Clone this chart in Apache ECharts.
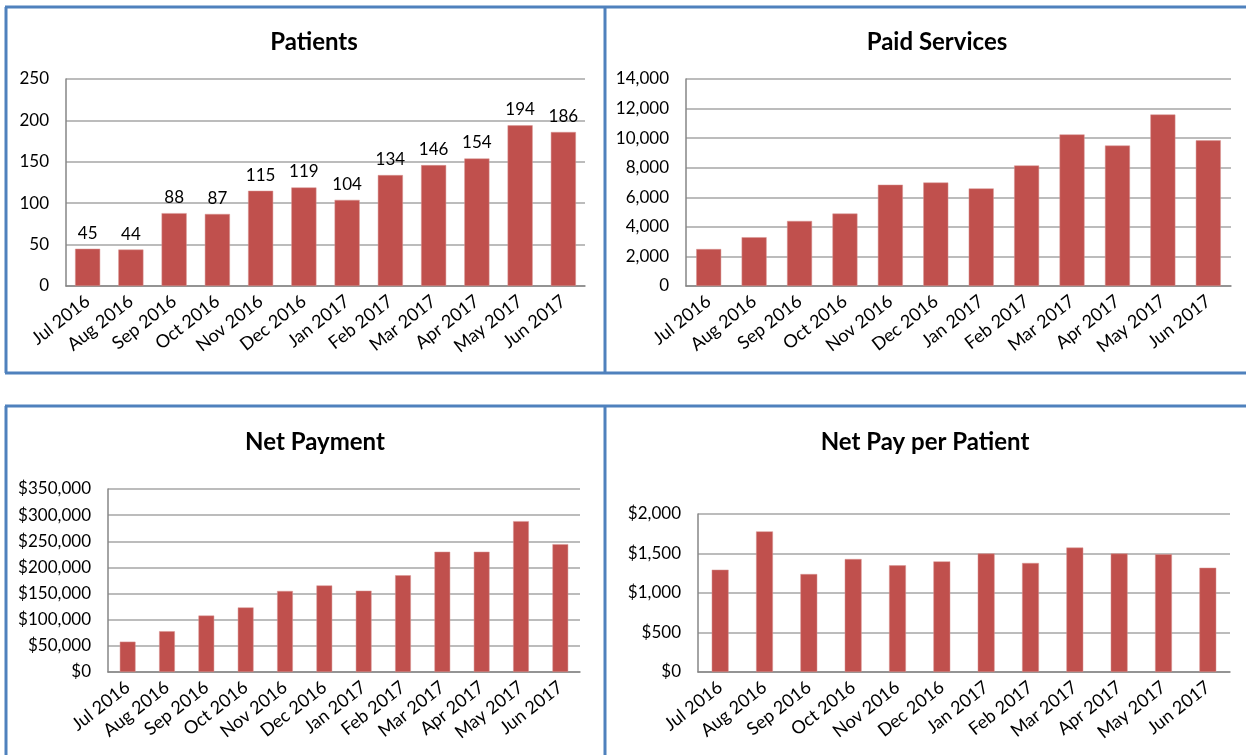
<!DOCTYPE html>
<html>
<head>
<meta charset="utf-8">
<style>
  html, body { margin: 0; padding: 0; background: #fff; }
  #main { width: 1246px; height: 755px; }
</style>
<script src="https://cdn.jsdelivr.net/npm/echarts@6/dist/echarts.min.js"></script>
</head>
<body>
<div id="main"></div>
<script>
var months = ['Jul 2016', 'Aug 2016', 'Sep 2016', 'Oct 2016', 'Nov 2016', 'Dec 2016',
              'Jan 2017', 'Feb 2017', 'Mar 2017', 'Apr 2017', 'May 2017', 'Jun 2017'];
var patients = [45, 44, 88, 87, 115, 119, 104, 134, 146, 154, 194, 186];
var paidServices = [2500, 3300, 4400, 4900, 6850, 7000, 6600, 8150, 10250, 9500, 11600, 9850];
var netPayment = [58000, 78000, 108000, 123500, 155000, 165500, 155500, 185000, 230000, 230000, 288500, 244500];
var netPayPerPatient = [1295, 1780, 1240, 1430, 1350, 1400, 1500, 1380, 1575, 1500, 1490, 1320];

var panelTitles = ['Patients', 'Paid Services', 'Net Payment', 'Net Pay per Patient'];

var font = 'Lato, "Liberation Sans", sans-serif';
var barColor = '#c0504d';
var frame = '#4f81bd';

function thousands(v) {
    return String(v).replace(/\B(?=(\d{3})+(?!\d))/g, ',');
}
function dollars(v) {
    return '$' + thousands(v);
}

var grids = [
    {left: 66, top: 79, width: 519, height: 207},
    {left: 686, top: 79, width: 545, height: 207},
    {left: 108, top: 489, width: 472, height: 183},
    {left: 698, top: 514, width: 532, height: 158}
];
var titlePos = [[309, 25], [932, 25], [310, 425], [920, 425]];

var yAxes = [
    {max: 250, interval: 50, fmt: function (v) { return v; }},
    {max: 14000, interval: 2000, fmt: thousands},
    {max: 350000, interval: 50000, fmt: dollars},
    {max: 2000, interval: 500, fmt: dollars}
];
var seriesData = [patients, paidServices, netPayment, netPayPerPatient];
var barWidths = ['58%', '55%', '40%', '38%'];

var myChart = echarts.init(document.getElementById('main'));

var option = {
    backgroundColor: '#fff',
    animation: false,
    textStyle: {fontFamily: font},
    title: panelTitles.map(function (t, i) {
        return {
            text: t,
            left: titlePos[i][0],
            top: titlePos[i][1],
            textAlign: 'center',
            textStyle: {fontFamily: font, fontSize: 24, fontWeight: 'bold', color: '#000'}
        };
    }),
    grid: grids,
    xAxis: grids.map(function (g, i) {
        return {
            type: 'category',
            gridIndex: i,
            data: months,
            axisTick: {show: false},
            axisLine: {lineStyle: {color: '#868686', width: 1.5}},
            axisLabel: {rotate: 38, color: '#000', fontSize: 18, fontFamily: font, margin: 13, interval: 0}
        };
    }),
    yAxis: yAxes.map(function (a, i) {
        return {
            type: 'value',
            gridIndex: i,
            min: 0,
            max: a.max,
            interval: a.interval,
            axisLine: {show: true, lineStyle: {color: '#868686', width: 1.5}},
            axisTick: {show: false},
            splitLine: {lineStyle: {color: '#a6a6a6', width: 1.5}},
            axisLabel: {color: '#000', fontSize: 17, fontFamily: font, margin: 17, formatter: a.fmt}
        };
    }),
    series: seriesData.map(function (d, i) {
        return {
            type: 'bar',
            xAxisIndex: i,
            yAxisIndex: i,
            data: d,
            barWidth: barWidths[i],
            itemStyle: {color: barColor, borderColor: '#d99694', borderWidth: 0.5},
            label: {
                show: i === 0,
                position: 'top',
                distance: 7,
                color: '#000',
                fontSize: 17,
                fontFamily: font
            }
        };
    }),
    graphic: [
        {type: 'line', shape: {x1: 5, y1: 7, x2: 1246, y2: 7}, style: {stroke: frame, lineWidth: 3}},
        {type: 'line', shape: {x1: 5, y1: 373, x2: 1246, y2: 373}, style: {stroke: frame, lineWidth: 3}},
        {type: 'line', shape: {x1: 6, y1: 7, x2: 6, y2: 373}, style: {stroke: frame, lineWidth: 3}},
        {type: 'line', shape: {x1: 605, y1: 7, x2: 605, y2: 373}, style: {stroke: frame, lineWidth: 3}},
        {type: 'line', shape: {x1: 5, y1: 406, x2: 1246, y2: 406}, style: {stroke: frame, lineWidth: 3}},
        {type: 'line', shape: {x1: 6, y1: 406, x2: 6, y2: 755}, style: {stroke: frame, lineWidth: 3}},
        {type: 'line', shape: {x1: 605, y1: 406, x2: 605, y2: 755}, style: {stroke: frame, lineWidth: 3}}
    ]
};
myChart.setOption(option);
</script>
</body>
</html>
